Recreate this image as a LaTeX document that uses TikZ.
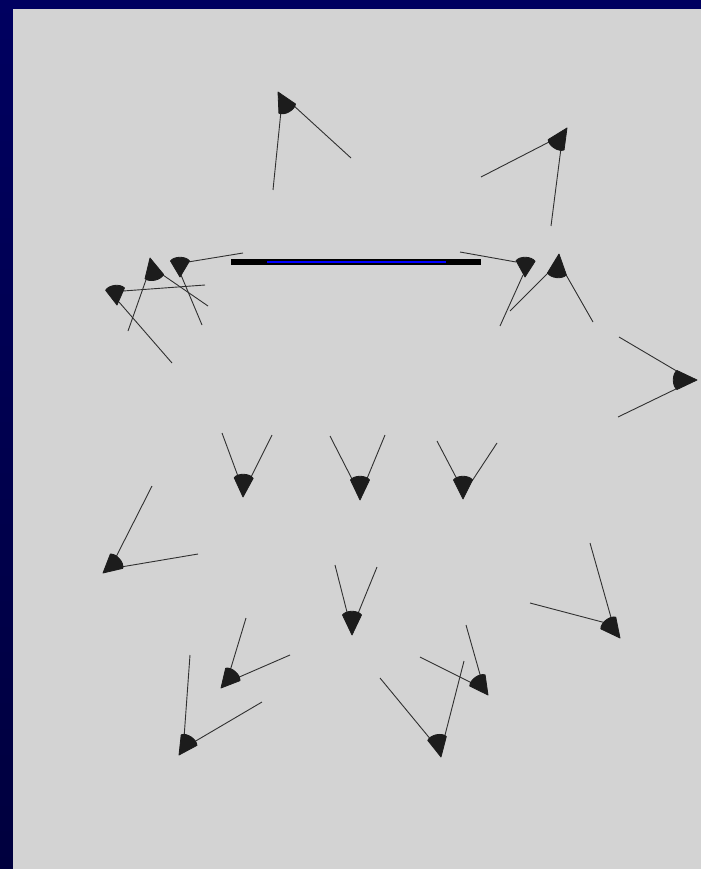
\documentclass[tikz,border=0pt]{standalone}
\usetikzlibrary{calc}
\definecolor{navytop}{HTML}{000060}
\definecolor{navybot}{HTML}{00003E}
\definecolor{bggray}{HTML}{D3D3D3}
\definecolor{conecol}{HTML}{1C1C1C}
\definecolor{linecol}{HTML}{303030}
\definecolor{barblue}{HTML}{0000FF}
\tikzset{
  feeler/.style={draw=linecol, line width=0.9pt},
  conefill/.style={fill=conecol, draw=conecol, line width=0.8pt, line join=round}
}
% \cone{tipx}{tipy}{heading angle}{length}
\newcommand\cone[4]{%
  \filldraw[conefill, shift={(#1,#2)}, rotate=#3]
    (0pt,0pt) -- (-#4pt,9.5pt) .. controls (-#4pt-5pt,6pt) and (-#4pt-5pt,-6pt) .. (-#4pt,-9.5pt) -- cycle;}
% \feelers{x1}{y1}{x2}{y2}{x3}{y3}{x4}{y4}
\newcommand\feelers[8]{%
  \draw[feeler] (#1,#2) -- (#3,#4);
  \draw[feeler] (#5,#6) -- (#7,#8);}
\begin{document}
\begin{tikzpicture}[x=1pt,y=-1pt]
\useasboundingbox (0,0) rectangle (701,869);
% frame and background
\fill[navytop] (0,0) rectangle (701,869);
\shade[top color=navytop, bottom color=navybot] (0,0) rectangle (13,869);
\fill[bggray] (13,9) rectangle (701,869);
% central bar
\fill[black] (231,258.5) rectangle (481,264.5);
\draw[barblue, line width=2pt] (267,261.5) -- (446,261.5);
% feelers
\feelers{281}{111}{273}{190}{293}{105}{351}{158}
\feelers{551}{141}{481}{177}{561}{148}{551}{226}
\feelers{516}{262}{460}{252}{523}{275}{500}{326}
\feelers{549}{272}{510}{311}{565}{273}{593}{322}
\feelers{680}{373}{619}{337}{680}{387}{618}{417}
\feelers{239}{479}{222}{433}{250}{479}{272}{435}
\feelers{353}{481}{330}{436}{366}{481}{385}{435}
\feelers{458}{481}{437}{441}{472}{481}{497}{443}
\feelers{116}{557}{152}{486}{121}{567}{198}{554}
\feelers{348}{616}{335}{565}{357}{616}{377}{567}
\feelers{230}{671}{246}{618}{237}{678}{290}{655}
\feelers{184}{738}{190}{655}{194}{742}{262}{702}
\feelers{432}{741}{380}{678}{444}{739}{464}{661}
\feelers{472}{683}{420}{657}{481}{678}{466}{625}
\feelers{606}{623}{530}{603}{612}{621}{590}{543}
\feelers{147}{277}{128}{331}{160}{273}{208}{306}
\feelers{188}{262}{243}{253}{181}{275}{202}{325}
\feelers{123}{291}{205}{285}{119}{302}{172}{363}
% cones
\cone{278}{92}{119}{19}
\cone{567}{128}{57}{20}
\cone{525}{277}{-92}{16}
\cone{559}{254}{84}{20}
\cone{697}{380}{0}{20}
\cone{243}{497}{-92}{19}
\cone{360}{500}{-90}{20}
\cone{463}{499}{-90}{19}
\cone{103}{573}{221}{18}
\cone{352}{635}{-90}{20}
\cone{221}{688}{229}{18}
\cone{179}{755}{236}{18}
\cone{441}{757}{-78}{19}
\cone{488}{695}{-54}{18}
\cone{620}{638}{-52}{19}
\cone{150}{258}{103}{19}
\cone{180}{277}{-90}{16}
\cone{117}{305}{-83}{16}
\end{tikzpicture}
\end{document}
